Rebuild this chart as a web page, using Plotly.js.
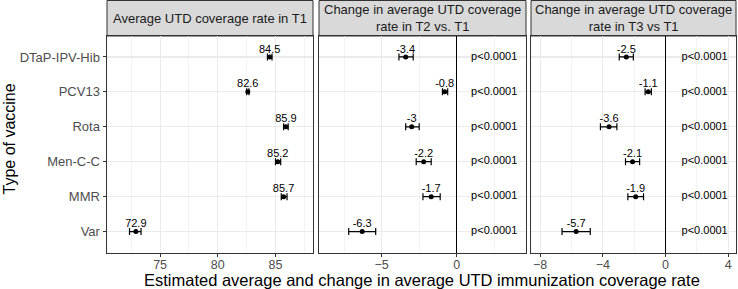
<!DOCTYPE html>
<html>
<head>
<meta charset="utf-8">
<script src="https://cdn.plot.ly/plotly-3.0.1.min.js"></script>
<style>html,body{margin:0;padding:0;background:#fff;}#chart{width:738px;height:289px;}</style>
</head>
<body>
<div id="chart"></div>
<script>
// ---- data ----
const vaccines = ['DTaP-IPV-Hib', 'PCV13', 'Rota', 'Men-C-C', 'MMR', 'Var'];
const t1Est = [84.5, 82.6, 85.9, 85.2, 85.7, 72.9];
const t1Lo  = [84.3, 82.5, 85.7, 85.0, 85.5, 72.35];
const t1Hi  = [84.7, 82.7, 86.1, 85.45, 86.0, 73.35];
const t2Est = [-3.4, -0.8, -3.0, -2.2, -1.7, -6.3];
const t2Lo  = [-3.85, -0.95, -3.4, -2.7, -2.25, -7.2];
const t2Hi  = [-2.9, -0.6, -2.5, -1.7, -1.1, -5.4];
const t3Est = [-2.5, -1.1, -3.6, -2.1, -1.9, -5.7];
const t3Lo  = [-2.95, -1.3, -4.15, -2.55, -2.4, -6.6];
const t3Hi  = [-2.05, -0.9, -3.1, -1.65, -1.4, -4.8];
const pvals2 = ['p<0.0001', 'p<0.0001', 'p<0.0001', 'p<0.0001', 'p<0.0001', 'p<0.0001'];
const pvals3 = ['p<0.0001', 'p<0.0001', 'p<0.0001', 'p<0.0001', 'p<0.0001', 'p<0.0001'];
const pX = [2.5, 2.5, 2.5, 2.5, 2.5, 2.5];
const stripTitles = ['Average UTD coverage rate in T1',
  'Change in average UTD coverage<br>rate in T2 vs. T1',
  'Change in average UTD coverage<br>rate in T3 vs T1'];
const xTitle = 'Estimated average and change in average UTD immunization coverage rate';
const yTitle = 'Type of vaccine';

// ---- helpers ----
const FONT = 'Liberation Sans, Arial, Helvetica, sans-serif';
function estTraces(est, lo, hi, xa, ya) {
  return [{
    type: 'scatter', mode: 'markers', x: est, y: vaccines,
    xaxis: xa, yaxis: ya,
    marker: {color: '#000', size: 5},
    error_x: {type: 'data', symmetric: false,
      array: hi.map((h, i) => h - est[i]),
      arrayminus: lo.map((l, i) => est[i] - l),
      color: '#000', thickness: 1.2, width: 3.5},
    hoverinfo: 'skip', showlegend: false, cliponaxis: false
  }, {
    type: 'scatter', mode: 'markers+text', x: est, y: vaccines,
    xaxis: xa, yaxis: ya,
    marker: {color: 'rgba(0,0,0,0)', size: 1},
    text: est.map(v => String(v)), textposition: 'top center',
    textfont: {family: FONT, size: 11, color: '#000'},
    hoverinfo: 'skip', showlegend: false, cliponaxis: false
  }];
}
function pTrace(p, xa, ya) {
  return {type: 'scatter', mode: 'text', x: pX, y: vaccines, xaxis: xa, yaxis: ya,
    text: p, textposition: 'middle center',
    textfont: {family: FONT, size: 11, color: '#000'},
    hoverinfo: 'skip', showlegend: false};
}

const data = [].concat(
  estTraces(t1Est, t1Lo, t1Hi, 'x', 'y'),
  estTraces(t2Est, t2Lo, t2Hi, 'x2', 'y2'),
  [pTrace(pvals2, 'x2', 'y2')],
  estTraces(t3Est, t3Lo, t3Hi, 'x3', 'y3'),
  [pTrace(pvals3, 'x3', 'y3')]
);

const W = 738, H = 289;
const doms = [[107, 313], [319, 526], [531, 736]].map(d => [d[0] / W, d[1] / W]);
const yDom = [(H - 252.5) / H, (H - 36) / H];

const grid = '#EBEBEB', dark = '#333333';
function xax(dom, range, dtick, mdtick, yref, zero) {
  return {
    domain: dom, range: range, anchor: yref, dtick: dtick, tick0: 0,
    showgrid: true, gridcolor: grid, gridwidth: 1.1,
    minor: {dtick: mdtick, tick0: 0, showgrid: true, gridcolor: grid, gridwidth: 0.6, ticks: ''},
    zeroline: zero, zerolinecolor: '#000', zerolinewidth: 1.2,
    showline: true, mirror: true, linecolor: dark, linewidth: 1,
    ticks: 'outside', ticklen: 3.5, tickcolor: dark, tickwidth: 1,
    ticklabelstandoff: -3,
    tickfont: {family: FONT, size: 12.5, color: '#4D4D4D'},
    fixedrange: true
  };
}
function yax(xref, labels) {
  return {
    domain: yDom, anchor: xref, type: 'category',
    categoryorder: 'array', categoryarray: vaccines, range: [5.6, -0.6],
    showgrid: true, gridcolor: grid, gridwidth: 1.1, zeroline: false,
    showline: true, mirror: true, linecolor: dark, linewidth: 1,
    ticks: labels ? 'outside' : '', ticklen: 3.5, tickcolor: dark, tickwidth: 1,
    showticklabels: labels,
    tickfont: {family: FONT, size: 13, color: '#4D4D4D'},
    fixedrange: true
  };
}

const shapes = [], annotations = [];
doms.forEach((d, i) => {
  shapes.push({type: 'rect', xref: 'paper', yref: 'paper', x0: d[0], x1: d[1],
    y0: yDom[1], y1: 1 - 0.5 / H, fillcolor: '#D9D9D9', line: {color: dark, width: 1}, layer: 'below'});
  annotations.push({xref: 'paper', yref: 'paper', x: (d[0] + d[1]) / 2, y: (H - 18.3) / H,
    xanchor: 'center', yanchor: 'middle', showarrow: false, text: stripTitles[i],
    font: {family: FONT, size: 13, color: '#1A1A1A'}});
});
annotations.push({xref: 'paper', yref: 'paper', x: 421.5 / W, y: (H - 279.5) / H,
  xanchor: 'center', yanchor: 'middle', showarrow: false, text: xTitle,
  font: {family: FONT, size: 16.5, color: '#000'}});
annotations.push({xref: 'paper', yref: 'paper', x: 8.5 / W, y: (H - 139) / H,
  xanchor: 'center', yanchor: 'middle', showarrow: false, text: yTitle, textangle: -90,
  font: {family: FONT, size: 16, color: '#000'}});

const layout = {
  width: W, height: H, margin: {l: 0, r: 0, t: 0, b: 0},
  paper_bgcolor: '#fff', plot_bgcolor: '#fff', showlegend: false,
  font: {family: FONT},
  xaxis: xax(doms[0], [70.4, 88.25], 5, 2.5, 'y', false),
  xaxis2: xax(doms[1], [-9.18, 4.62], 5, 2.5, 'y2', true),
  xaxis3: xax(doms[2], [-8.58, 4.5], 4, 2, 'y3', true),
  yaxis: yax('x', true),
  yaxis2: yax('x2', false),
  yaxis3: yax('x3', false),
  shapes: shapes, annotations: annotations
};

Plotly.newPlot('chart', data, layout, {displayModeBar: false, staticPlot: true});
</script>
</body>
</html>
